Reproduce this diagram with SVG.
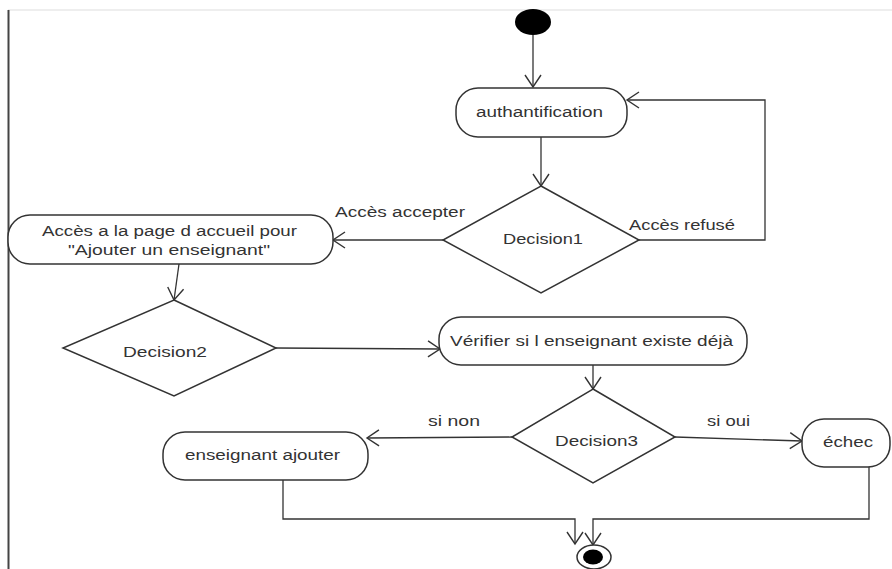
<svg xmlns="http://www.w3.org/2000/svg" width="892" height="569" viewBox="0 0 892 569">
  <defs>
    <marker id="open" viewBox="-14 -9 16 18" refX="0" refY="0" markerWidth="16" markerHeight="18" markerUnits="userSpaceOnUse" orient="auto">
      <path d="M -12 -8 L 0 0 L -12 8" fill="none" stroke="#333" stroke-width="1.4"/>
    </marker>
  </defs>
  <style>
    .act { fill: #fff; stroke: #333; stroke-width: 1.5; }
    .dec { fill: #fff; stroke: #333; stroke-width: 1.5; }
    .flow { fill: none; stroke: #333; stroke-width: 1.3; marker-end: url(#open); }
    .plain { fill: none; stroke: #333; stroke-width: 1.3; }
    text { font-family: "Liberation Sans", Arial, sans-serif; font-size: 14px; fill: #333; }
  </style>
  <rect x="0" y="0" width="892" height="569" fill="#fff"/>

  <!-- frame -->
  <line x1="8" y1="10" x2="892" y2="10" stroke="#eeeeee" stroke-width="2"/>
  <line x1="8.5" y1="10" x2="8.5" y2="569" stroke="#444" stroke-width="2"/>

  <!-- connectors -->
  <g id="connectors">
    <line class="flow" x1="533" y1="35" x2="533" y2="87"/>
    <line class="flow" x1="541" y1="137" x2="541" y2="186"/>
    <polyline class="flow" points="639,240 765,240 765,100 627,100"/>
    <line class="flow" x1="443" y1="240" x2="333" y2="240"/>
    <line class="flow" x1="179" y1="264" x2="174" y2="300"/>
    <line class="flow" x1="276" y1="348" x2="440" y2="349"/>
    <line class="flow" x1="593" y1="365" x2="593" y2="389"/>
    <line class="flow" x1="512" y1="437" x2="367" y2="438"/>
    <line class="flow" x1="675" y1="437" x2="802" y2="441"/>
    <polyline class="flow" points="283,480 283,519 575,519 575,544"/>
    <polyline class="flow" points="869,467 869,519 593,519 593,545"/>
    <text x="335" y="217" textLength="130" lengthAdjust="spacingAndGlyphs">Accès accepter</text>
    <text x="629" y="230" textLength="106" lengthAdjust="spacingAndGlyphs">Accès refusé</text>
    <text x="428" y="426" textLength="52" lengthAdjust="spacingAndGlyphs">si non</text>
    <text x="707" y="426" textLength="43" lengthAdjust="spacingAndGlyphs">si oui</text>
  </g>

  <g id="start">
    <ellipse cx="533" cy="22" rx="18" ry="13" fill="#000"/>
  </g>

  <g id="authantification">
    <rect class="act" x="456" y="88" width="171" height="49" rx="22" ry="22"/>
    <text x="476" y="117" textLength="127" lengthAdjust="spacingAndGlyphs">authantification</text>
  </g>

  <g id="decision1">
    <polygon class="dec" points="541,186 639,240 541,293 443,240"/>
    <text x="503" y="244" textLength="80" lengthAdjust="spacingAndGlyphs">Decision1</text>
  </g>

  <g id="accueil">
    <rect class="act" x="8" y="215" width="325" height="49" rx="22" ry="22"/>
    <text x="42" y="236" textLength="255" lengthAdjust="spacingAndGlyphs">Accès a la page d accueil pour</text>
    <text x="68" y="255" textLength="202" lengthAdjust="spacingAndGlyphs">"Ajouter un enseignant"</text>
  </g>

  <g id="decision2">
    <polygon class="dec" points="174,300 276,348 174,396 63,348"/>
    <text x="123" y="357" textLength="84" lengthAdjust="spacingAndGlyphs">Decision2</text>
  </g>

  <g id="verifier">
    <rect class="act" x="439" y="317" width="308" height="48" rx="22" ry="22"/>
    <text x="450" y="346" textLength="283" lengthAdjust="spacingAndGlyphs">Vérifier si l enseignant existe déjà</text>
  </g>

  <g id="decision3">
    <polygon class="dec" points="593,389 675,437 593,483 512,437"/>
    <text x="555" y="446" textLength="83" lengthAdjust="spacingAndGlyphs">Decision3</text>
  </g>

  <g id="ajouter">
    <rect class="act" x="163" y="432" width="205" height="48" rx="22" ry="22"/>
    <text x="185" y="460" textLength="155" lengthAdjust="spacingAndGlyphs">enseignant ajouter</text>
  </g>

  <g id="echec">
    <rect class="act" x="802" y="419" width="88" height="48" rx="22" ry="22"/>
    <text x="823" y="447" textLength="50" lengthAdjust="spacingAndGlyphs">échec</text>
  </g>

  <g id="end">
    <ellipse cx="594" cy="557" rx="17" ry="12" fill="#fff" stroke="#333" stroke-width="1.5"/>
    <ellipse cx="593" cy="557" rx="10" ry="7.5" fill="#000"/>
  </g>
</svg>
